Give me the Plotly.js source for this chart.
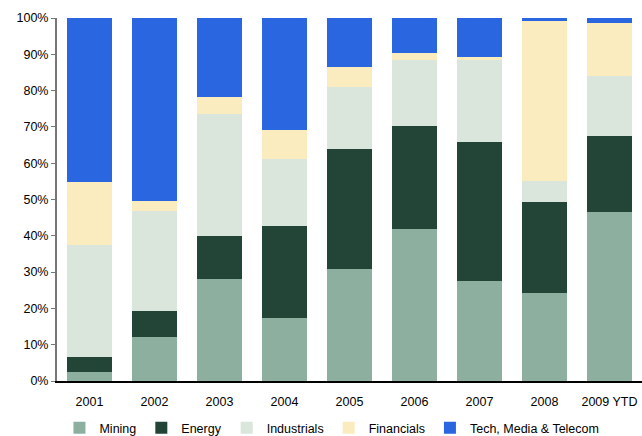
<!DOCTYPE html>
<html><head><meta charset="utf-8">
<script src="https://cdn.plot.ly/plotly-3.0.1.min.js"></script>
<style>html,body{margin:0;padding:0;background:#fff}#chart{width:642px;height:436px}</style>
</head><body><div id="chart"></div>
<script>
const years = ["2001","2002","2003","2004","2005","2006","2007","2008","2009 YTD"];
const mining      = [2.6, 12.1, 28.1, 17.4, 30.9, 41.9, 27.5, 24.2, 46.6];
const energy      = [4.0, 7.2, 11.8, 25.3, 33.0, 28.3, 38.3, 25.1, 20.9];
const industrials = [30.9, 27.5, 33.7, 18.5, 17.1, 18.2, 22.6, 5.8, 16.5];
const financials  = [17.3, 2.8, 4.6, 7.9, 5.5, 2.0, 0.9, 44.1, 14.6];
const tech        = [45.2, 50.4, 21.8, 30.9, 13.5, 9.6, 10.7, 0.8, 1.4];
const tickVals = [0,10,20,30,40,50,60,70,80,90,100];

const series = [
  {name:"Mining", y:mining, color:"#8DAFA0"},
  {name:"Energy", y:energy, color:"#234537"},
  {name:"Industrials", y:industrials, color:"#DAE5DC"},
  {name:"Financials", y:financials, color:"#FAECBE"},
  {name:"Tech, Media & Telecom", y:tech, color:"#2966E0"}
];
const data = series.map(s => ({
  type:"bar", x:years, y:s.y, name:s.name,
  marker:{color:s.color, line:{width:0}},
  hoverinfo:"x+y+name"
}));
const layout = {
  width:642, height:436,
  margin:{l:57, r:0, t:18, b:55},
  barmode:"stack", bargap:0.32,
  paper_bgcolor:"#fff", plot_bgcolor:"#fff",
  font:{family:"Liberation Sans, Arial, sans-serif", size:12.5, color:"#000"},
  xaxis:{type:"category", showline:true, linecolor:"#000", linewidth:1.5,
         ticks:"outside", ticklen:8, tickcolor:"rgba(0,0,0,0)", showgrid:false,
         zeroline:false, tickfont:{size:12.5}, automargin:false},
  yaxis:{range:[0,100], tickvals:tickVals, ticktext:tickVals.map(v=>v+"%"),
         showline:true, linecolor:"#777", linewidth:2, ticks:"outside", ticklen:4,
         tickcolor:"#777", showgrid:false, zeroline:false, tickfont:{size:12.5},
         automargin:false},
  showlegend:true,
  legend:{orientation:"h", x:0.47, xanchor:"center", yref:"container", y:0.018,
          yanchor:"middle", bgcolor:"rgba(0,0,0,0)", font:{size:12.5},
          traceorder:"normal", itemwidth:30}
};
Plotly.newPlot("chart", data, layout, {displayModeBar:false, staticPlot:true});
</script></body></html>
